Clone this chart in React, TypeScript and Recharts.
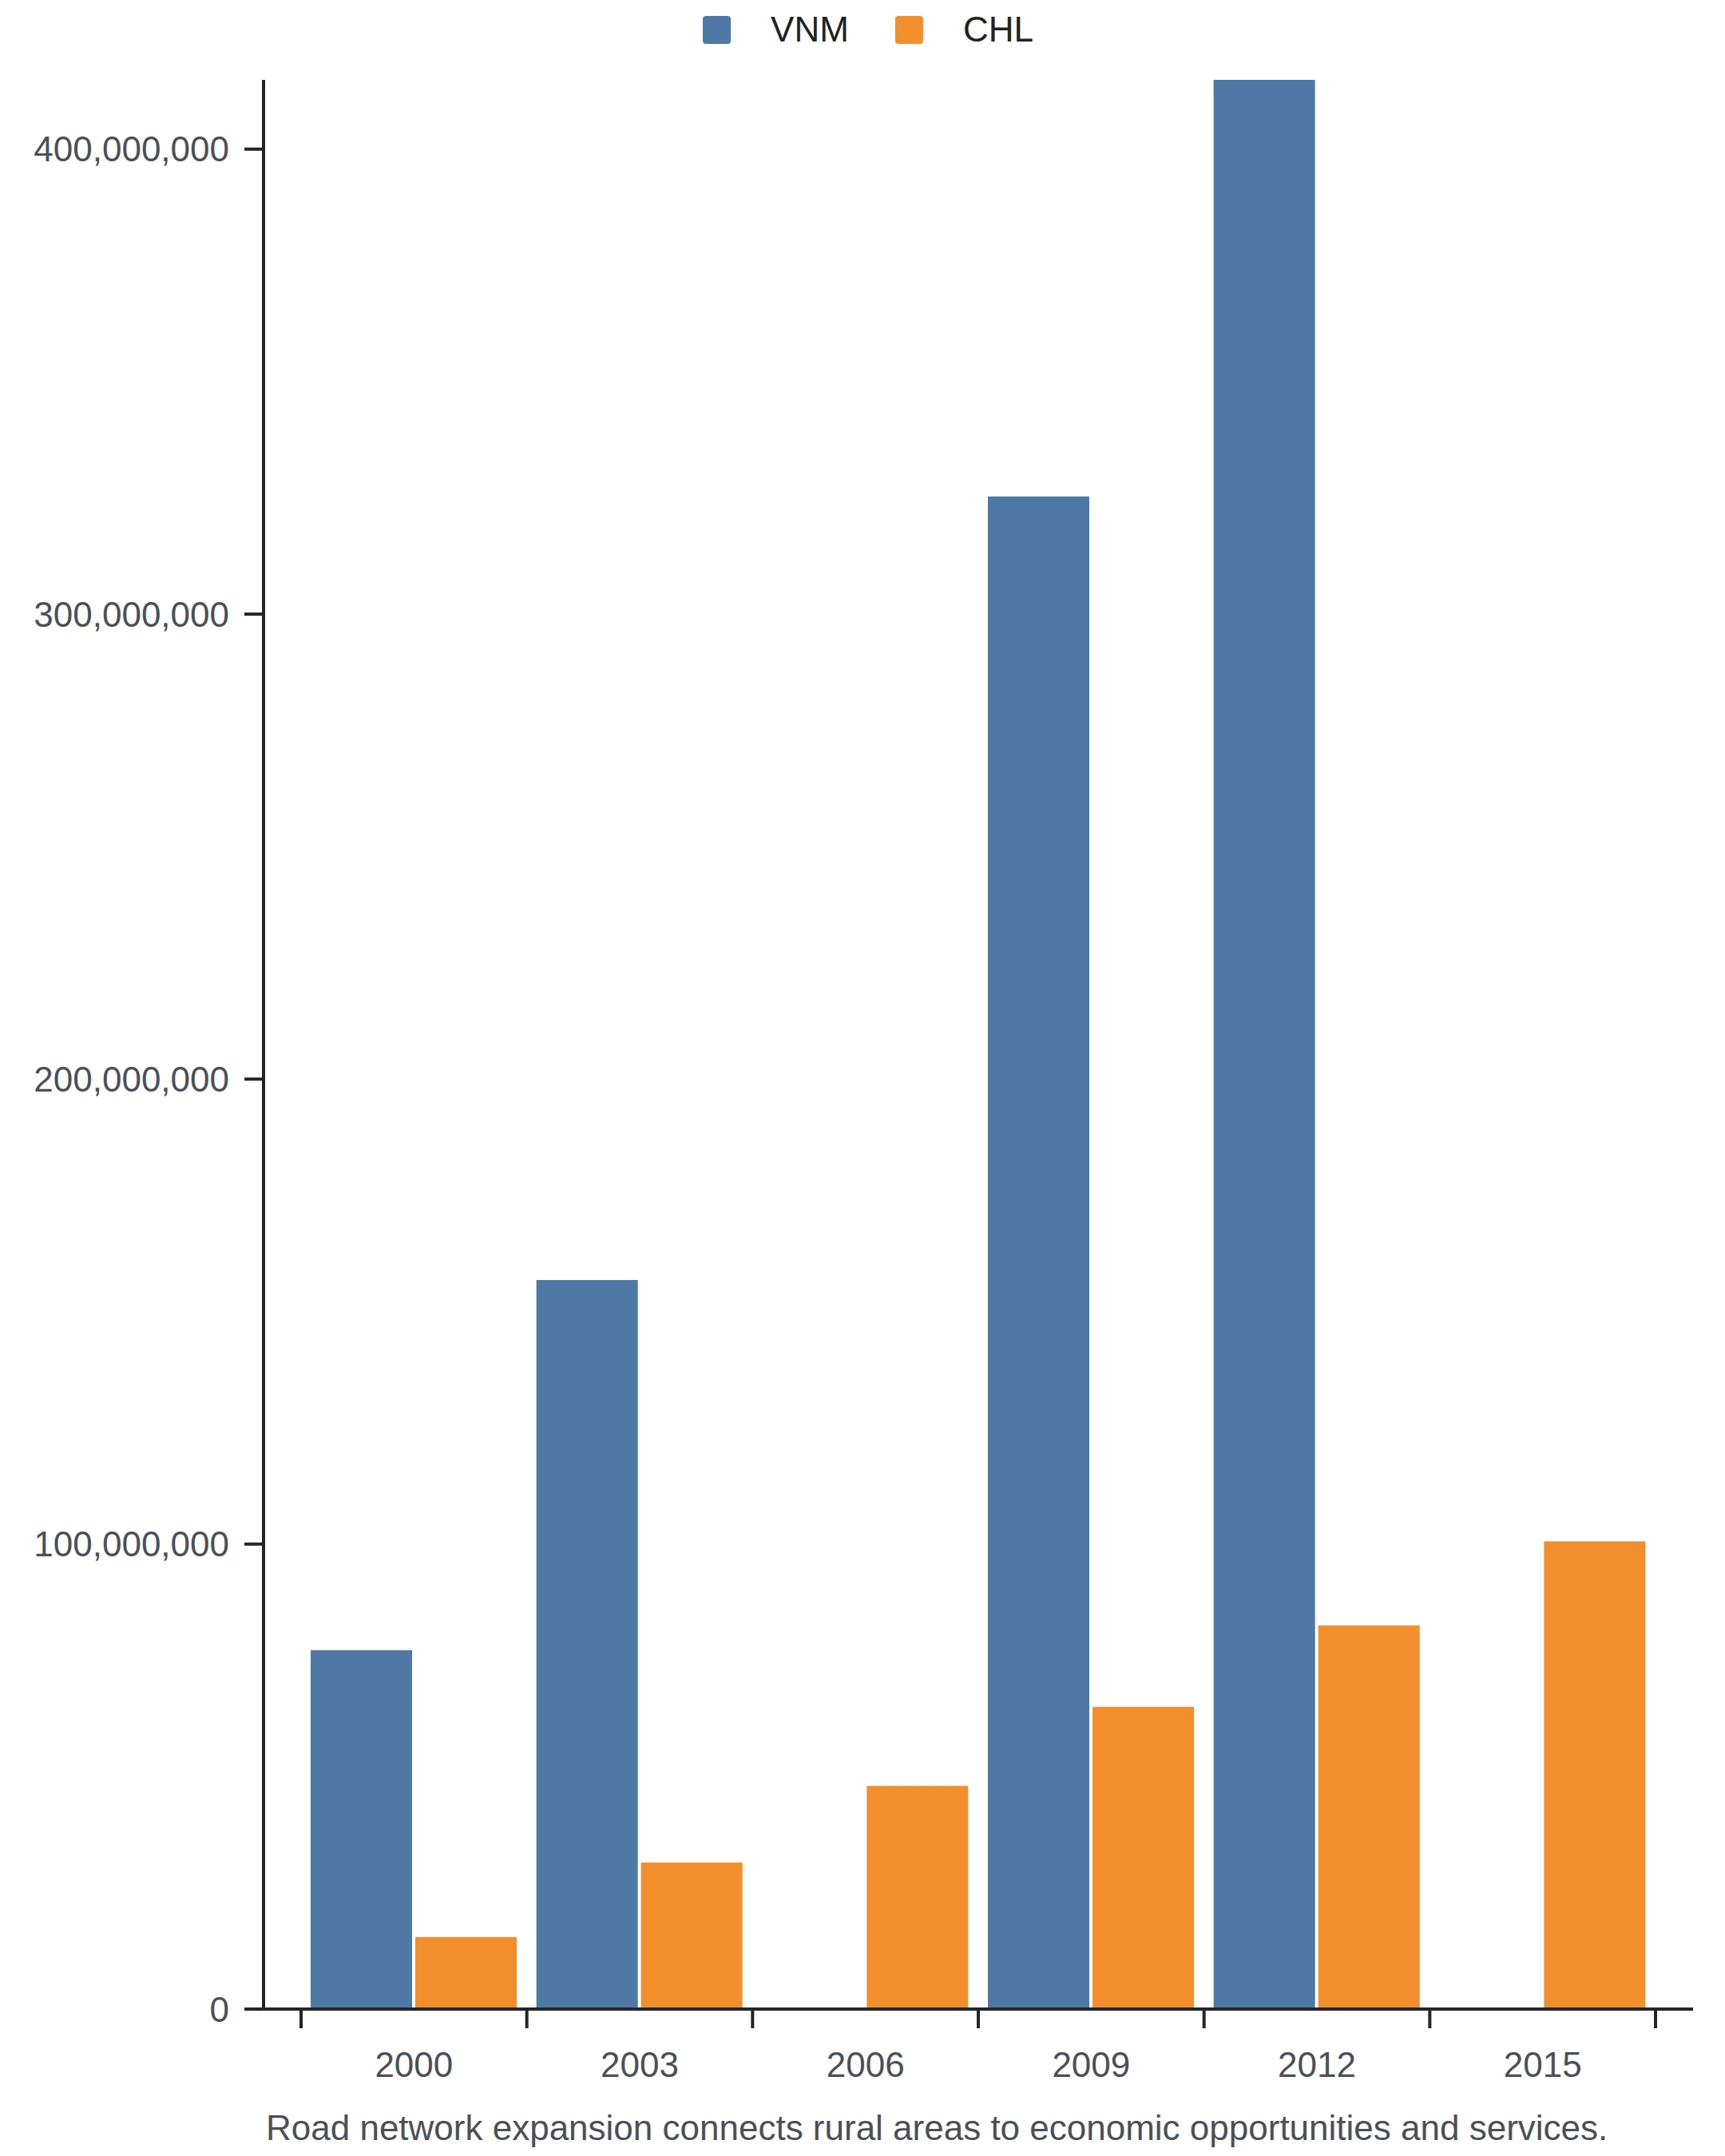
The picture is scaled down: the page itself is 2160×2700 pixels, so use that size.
import React from 'react';
import { BarChart, Bar, XAxis, YAxis, Legend, Label } from 'recharts';

// values
const years = ['2000', '2003', '2006', '2009', '2012', '2015'];
const vnm = [77.2e6, 156.8e6, null, 325.3e6, 414.9e6, null];
const chl = [15.5e6, 31.5e6, 48.0e6, 65.0e6, 82.5e6, 100.6e6];
const yTicks = [0, 100e6, 200e6, 300e6, 400e6];
const caption =
  'Road network expansion connects rural areas to economic opportunities and services.';

const series = [
  { key: 'VNM', color: '#4e79a7' },
  { key: 'CHL', color: '#f28e2b' },
];

const data = years.map((year, i) => ({ year, VNM: vnm[i], CHL: chl[i] }));

const W = 2144;
const H = 2684;
const FONT = '"Liberation Sans", Arial, sans-serif';
const AXIS = '#222529';
const LABEL = '#4b5058';

const YearTick = (props: any) => {
  const { x, y, payload } = props;
  const half = payload?.offset ?? 141;
  const last = payload?.value === years[years.length - 1];
  return (
    <g>
      <line x1={x - half} x2={x - half} y1={y} y2={y + 24} stroke={AXIS} strokeWidth={4} />
      {last && (
        <line x1={x + half} x2={x + half} y1={y} y2={y + 24} stroke={AXIS} strokeWidth={4} />
      )}
      <text x={x} y={y + 85} textAnchor="middle" fill={LABEL} fontSize={44} fontFamily={FONT}>
        {payload.value}
      </text>
    </g>
  );
};

const LegendBox = () => (
  <div
    style={{
      display: 'flex',
      justifyContent: 'center',
      alignItems: 'center',
      paddingLeft: 14,
      fontFamily: FONT,
      fontSize: 44,
      lineHeight: '44px',
      color: '#222',
    }}
  >
    {series.map((s, i) => (
      <div key={s.key} style={{ display: 'flex', alignItems: 'center', marginLeft: i ? 58 : 0 }}>
        <span
          style={{
            width: 35,
            height: 35,
            borderRadius: 4,
            background: s.color,
            display: 'inline-block',
            marginRight: 50,
          }}
        />
        <span>{s.key}</span>
      </div>
    ))}
  </div>
);

const CaptionLabel = (props: any) => {
  const vb = props.viewBox || {};
  return (
    <text x={vb.x + 3} y={vb.y + 164} fill={LABEL} fontSize={44} fontFamily={FONT}>
      {caption}
    </text>
  );
};

export default function App() {
  return (
    <div style={{ width: W, height: H, fontFamily: FONT }}>
      <BarChart
        width={W}
        height={H}
        data={data}
        margin={{ top: 92, right: 32, bottom: 0, left: 22 }}
        barCategoryGap={12}
        barGap={4}
      >
        <XAxis
          dataKey="year"
          height={176}
          padding={{ left: 47, right: 47 }}
          axisLine={{ stroke: AXIS, strokeWidth: 4 }}
          tickLine={false}
          tickSize={0}
          tickMargin={0}
          tick={<YearTick />}
          interval={0}
        >
          <Label content={<CaptionLabel />} />
        </XAxis>
        <YAxis
          width={300}
          domain={[0, 'dataMax']}
          ticks={yTicks}
          tickFormatter={(v: number) => v.toLocaleString('en-US')}
          axisLine={{ stroke: AXIS, strokeWidth: 4 }}
          tickLine={{ stroke: AXIS, strokeWidth: 4 }}
          tickSize={24}
          tickMargin={19}
          tick={{ fill: LABEL, fontSize: 44, fontFamily: FONT }}
        />
        <Legend
          layout="horizontal"
          verticalAlign="middle"
          align="center"
          content={<LegendBox />}
          wrapperStyle={{ top: 7, left: 0, width: W }}
        />
        {series.map((s) => (
          <Bar key={s.key} dataKey={s.key} fill={s.color} isAnimationActive={false} />
        ))}
      </BarChart>
    </div>
  );
}
